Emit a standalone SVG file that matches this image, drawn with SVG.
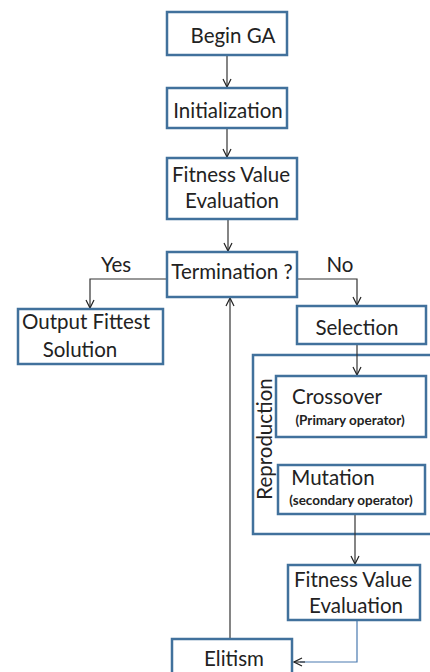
<svg xmlns="http://www.w3.org/2000/svg" width="430" height="672" viewBox="0 0 430 672">
<style>
.box{fill:#fff;stroke:#41719c;stroke-width:2.5}
.t{font-family:Lato,"Open Sans",sans-serif;font-size:20.5px;fill:#222;text-anchor:middle}
.s{font-family:Lato,"Open Sans",sans-serif;font-size:13.5px;font-weight:bold;fill:#222;text-anchor:middle}
.ln{fill:none;stroke:#333;stroke-width:1.2}
.bl{fill:none;stroke:#4a7ab0;stroke-width:1.2}
</style>
<defs>
<marker id="ah" markerWidth="10" markerHeight="10" refX="9" refY="5" orient="auto" markerUnits="userSpaceOnUse">
<path d="M1,1 L9,5 L1,9" fill="none" stroke="#222" stroke-width="1.2"/>
</marker>
</defs>
<rect x="0" y="0" width="430" height="672" fill="#fff"/>
<g id="reproduction">
<rect class="box" x="253" y="355" width="190" height="179"/>
<text class="t" transform="translate(272,439) rotate(-90)">Reproduction</text>
</g>
<g id="connectors">
<path class="ln" d="M227,55 V87" marker-end="url(#ah)"/>
<path class="ln" d="M227,128 V157" marker-end="url(#ah)"/>
<path class="ln" d="M228,219 V251" marker-end="url(#ah)"/>
<path class="ln" d="M167,279 H90 V308" marker-end="url(#ah)"/>
<path class="ln" d="M297,279 H357 V305" marker-end="url(#ah)"/>
<path class="ln" d="M357,344 V375" marker-end="url(#ah)"/>
<path class="ln" d="M355,514 V564" marker-end="url(#ah)"/>
<path class="bl" d="M357,620 V662 H300"/>
<path class="ln" d="M305,662 H294" marker-end="url(#ah)"/>
<path class="ln" d="M230,639 V298" marker-end="url(#ah)"/>
<text class="t" x="116" y="272">Yes</text>
<text class="t" x="340" y="272">No</text>
</g>
<g id="begin">
<rect class="box" x="167" y="12" width="120" height="43"/>
<text class="t" x="233" y="43">Begin GA</text>
</g>
<g id="init">
<rect class="box" x="167" y="88" width="120" height="40"/>
<text class="t" x="228" y="118">Initialization</text>
</g>
<g id="fitness1">
<rect class="box" x="167" y="158" width="130" height="61"/>
<text class="t" x="231" y="182">Fitness Value</text>
<text class="t" x="232" y="208">Evaluation</text>
</g>
<g id="termination">
<rect class="box" x="167" y="252" width="130" height="45"/>
<text class="t" x="232" y="279">Termination ?</text>
</g>
<g id="output">
<rect class="box" x="18" y="309" width="145" height="55"/>
<text class="t" x="86" y="329">Output Fittest</text>
<text class="t" x="80" y="357">Solution</text>
</g>
<g id="selection">
<rect class="box" x="297" y="306" width="129" height="38"/>
<text class="t" x="357" y="335">Selection</text>
</g>
<g id="crossover">
<rect class="box" x="276" y="376" width="150" height="61"/>
<text class="t" x="337" y="404">Crossover</text>
<text class="s" x="350" y="425">(Primary operator)</text>
</g>
<g id="mutation">
<rect class="box" x="278" y="465" width="147" height="49"/>
<text class="t" x="333" y="485">Mutation</text>
<text class="s" x="351" y="505">(secondary operator)</text>
</g>
<g id="fitness2">
<rect class="box" x="288" y="565" width="132" height="55"/>
<text class="t" x="353" y="587">Fitness Value</text>
<text class="t" x="356" y="613">Evaluation</text>
</g>
<g id="elitism">
<rect class="box" x="172" y="639" width="120" height="45"/>
<text class="t" x="234" y="666">Elitism</text>
</g>
</svg>
